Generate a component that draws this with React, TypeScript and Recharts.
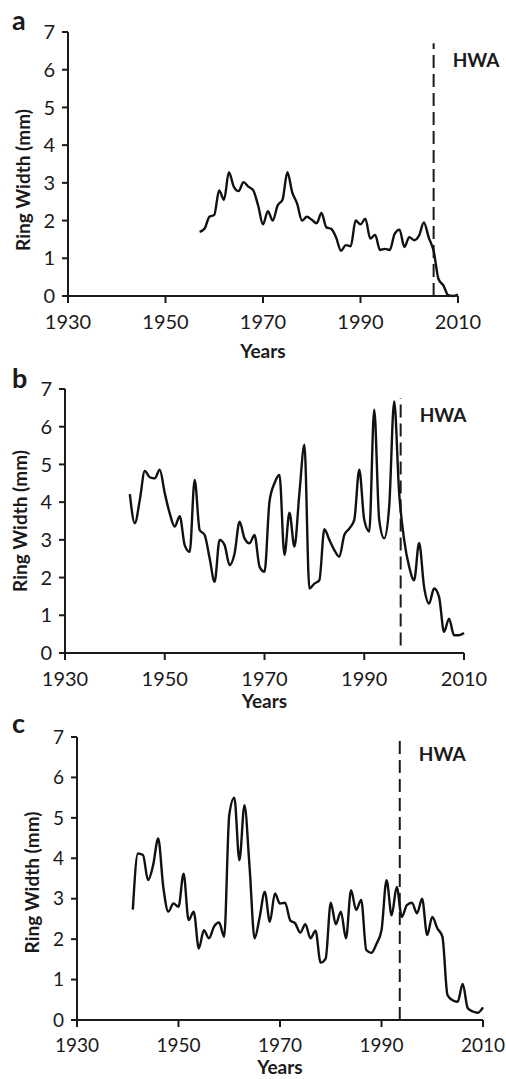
import { Line, LineChart, ReferenceLine, XAxis, YAxis } from "recharts";

const YEAR_TICKS = [1930, 1950, 1970, 1990, 2010];
const WIDTH_TICKS = [0, 1, 2, 3, 4, 5, 6, 7];

// panel a
const START_A = 1957;
const RING_A = [
  1.7, 1.78, 2.1, 2.15, 2.8, 2.55, 3.28, 2.9, 2.78, 3.02, 2.9, 2.8, 2.4, 1.9,
  2.25, 2.0, 2.4, 2.55, 3.28, 2.75, 2.45, 2.0, 2.1, 2.02, 1.93, 2.2, 1.82, 1.78,
  1.55, 1.2, 1.35, 1.32, 2.0, 1.9, 2.05, 1.52, 1.62, 1.22, 1.25, 1.22, 1.65,
  1.76, 1.3, 1.56, 1.48, 1.6, 1.95, 1.55, 1.2, 0.45, 0.28, 0.02, 0.0, 0.04,
];
const HWA_A = { year: 2005, from: 0, to: 6.7 };

// panel b
const START_B = 1943;
const RING_B = [
  4.21, 3.44, 4.06, 4.83, 4.66, 4.63, 4.86, 4.24, 3.7, 3.35, 3.63, 2.86, 2.68,
  4.59, 3.26, 3.13, 2.51, 1.89, 3.0, 2.86, 2.33, 2.64, 3.48, 3.04, 2.91, 3.13,
  2.29, 2.15, 4.01, 4.5, 4.72, 2.6, 3.72, 2.82, 4.24, 5.52, 1.71, 1.84, 1.93,
  3.28, 3.0, 2.73, 2.55, 3.13, 3.3, 3.53, 4.86, 3.53, 3.22, 6.45, 3.53, 3.04,
  3.88, 6.67, 4.24, 3.0, 2.29, 1.93, 2.92, 1.75, 1.31, 1.71, 1.49, 0.56, 0.91,
  0.47, 0.47, 0.53,
];
const HWA_B = { year: 1997.3, from: 0.2, to: 6.76 };

// panel c
const START_C = 1941;
const RING_C = [
  2.73, 4.12, 4.08, 3.46, 3.83, 4.49, 3.29, 2.68, 2.88, 2.8, 3.62, 2.47, 2.68,
  1.77, 2.22, 2.02, 2.31, 2.41, 2.06, 5.07, 5.5, 3.95, 5.31, 3.79, 2.02, 2.55,
  3.17, 2.43, 3.13, 2.88, 2.9, 2.47, 2.39, 2.16, 2.37, 2.02, 2.21, 1.42, 1.52,
  2.9, 2.37, 2.68, 2.02, 3.21, 2.72, 2.97, 1.73, 1.66, 1.88, 2.22, 3.46, 2.59,
  3.29, 2.55, 2.84, 2.9, 2.64, 3.0, 2.1, 2.55, 2.27, 2.06, 0.62, 0.49, 0.45,
  0.89, 0.29, 0.21, 0.18, 0.31,
];
const HWA_C = { year: 1993.6, from: 0, to: 7 };

const FONTE = "Lato, 'Open Sans', sans-serif";
const TINTA = "#1a1a1a";

type Painel = {
  letra: string;
  inicio: number;
  valores: number[];
  hwa: { year: number; from: number; to: number };
  topo: number;
  altura: number;
  margem: { top: number; right: number; bottom: number; left: number };
  rotuloY: number;
  anosGap: number;
  fonteTick: number;
  letraTopo: number;
};

function GraficoAnel({ p }: { p: Painel }) {
  const dados = p.valores.map((v, i) => ({ ano: p.inicio + i, largura: v }));
  return (
    <div style={{ position: "absolute", left: 0, top: p.topo }}>
      <LineChart width={506} height={p.altura} data={dados} margin={p.margem}>
        <XAxis
          dataKey="ano"
          type="number"
          domain={[1930, 2010]}
          ticks={YEAR_TICKS}
          height={60}
          tickSize={7}
          tickMargin={12}
          axisLine={{ stroke: TINTA, strokeWidth: 2 }}
          tickLine={{ stroke: TINTA, strokeWidth: 2 }}
          tick={{ fill: TINTA, fontSize: p.fonteTick, fontFamily: FONTE }}
          label={{
            content: ({ viewBox }: any) => (
              <text
                x={viewBox.x + viewBox.width / 2}
                y={viewBox.y + p.anosGap}
                textAnchor="middle"
                fontFamily={FONTE}
                fontWeight="bold"
                fontSize={19}
                fill={TINTA}
              >
                Years
              </text>
            ),
          }}
        />
        <YAxis
          type="number"
          domain={[0, 7]}
          ticks={WIDTH_TICKS}
          width={60}
          tickSize={6}
          tickMargin={7}
          axisLine={{ stroke: TINTA, strokeWidth: 2 }}
          tickLine={{ stroke: TINTA, strokeWidth: 2 }}
          tick={{ fill: TINTA, fontSize: p.fonteTick, fontFamily: FONTE }}
          label={{
            content: ({ viewBox }: any) => {
              const cx = viewBox.x + viewBox.width - 45 + 7;
              const cy = viewBox.y + viewBox.height / 2 + p.rotuloY;
              return (
                <text
                  x={cx}
                  y={cy}
                  transform={`rotate(-90 ${cx} ${cy})`}
                  textAnchor="middle"
                  fontFamily={FONTE}
                  fontWeight="bold"
                  fontSize={19}
                  fill={TINTA}
                >
                  Ring Width (mm)
                </text>
              );
            },
          }}
        />
        <ReferenceLine
          segment={[
            { x: p.hwa.year, y: p.hwa.from },
            { x: p.hwa.year, y: p.hwa.to },
          ]}
          stroke={TINTA}
          strokeWidth={2}
          strokeDasharray="13 6"
          label={{
            content: ({ viewBox }: any) => (
              <text
                x={viewBox.x + 19}
                y={viewBox.y + 24}
                fontFamily={FONTE}
                fontWeight="bold"
                fontSize={19}
                fill={TINTA}
              >
                HWA
              </text>
            ),
          }}
        />
        <Line
          dataKey="largura"
          type="monotone"
          stroke="#111"
          strokeWidth={2.4}
          dot={false}
          isAnimationActive={false}
        />
      </LineChart>
      <div
        style={{
          position: "absolute",
          left: 12,
          top: p.letraTopo,
          fontFamily: FONTE,
          fontWeight: "bold",
          fontSize: 27,
          lineHeight: "27px",
          color: TINTA,
        }}
      >
        {p.letra}
      </div>
    </div>
  );
}

const PAINEIS: Painel[] = [
  {
    letra: "a",
    inicio: START_A,
    valores: RING_A,
    hwa: HWA_A,
    topo: 0,
    altura: 372,
    margem: { top: 32, right: 48, bottom: 16, left: 8 },
    rotuloY: 16,
    anosGap: 62,
    fonteTick: 20,
    letraTopo: 6,
  },
  {
    letra: "b",
    inicio: START_B,
    valores: RING_B,
    hwa: HWA_B,
    topo: 360,
    altura: 372,
    margem: { top: 29, right: 42, bottom: 19, left: 5 },
    rotuloY: 0,
    anosGap: 55,
    fonteTick: 20,
    letraTopo: 4,
  },
  {
    letra: "c",
    inicio: START_C,
    valores: RING_C,
    hwa: HWA_C,
    topo: 720,
    altura: 359,
    margem: { top: 17, right: 23, bottom: -1, left: 17 },
    rotuloY: 4,
    anosGap: 54,
    fonteTick: 19,
    letraTopo: -11,
  },
];

export default function App() {
  return (
    <div
      style={{
        position: "absolute",
        left: 0,
        top: 0,
        width: 506,
        height: 1079,
        background: "#fff",
        overflow: "hidden",
      }}
    >
      {PAINEIS.map((p) => (
        <GraficoAnel key={p.letra} p={p} />
      ))}
    </div>
  );
}
